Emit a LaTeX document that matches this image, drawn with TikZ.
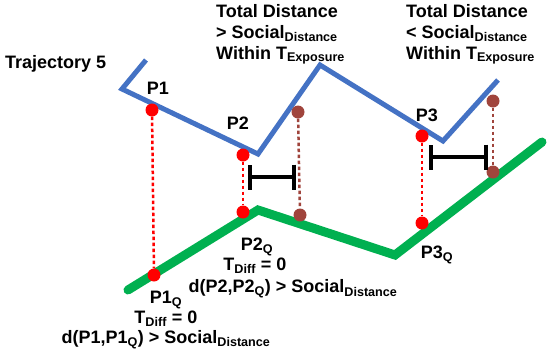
\documentclass[tikz,border=0pt]{standalone}
\usepackage{fontspec}
\setmainfont{Liberation Sans}
\usetikzlibrary{arrows.meta}
\definecolor{trajblue}{HTML}{4472C4}
\definecolor{trajgreen}{HTML}{00B050}
\definecolor{dotred}{HTML}{FF0000}
\definecolor{dotbrown}{HTML}{A0443C}
\tikzset{
  lbl/.style={font=\bfseries\fontsize{18}{21}\selectfont, inner sep=0pt},
  reddot/.style={circle, fill=dotred, inner sep=0pt, minimum size=13pt},
  browndot/.style={circle, fill=dotbrown, inner sep=0pt, minimum size=13pt},
  reddash/.style={dotred, line width=2.5pt, dash pattern=on 3.5pt off 2.5pt},
  browndash/.style={dotbrown, line width=2.5pt, dash pattern=on 3.5pt off 2.5pt},
  gapbar/.style={line width=4pt, {Bar[width=25pt]}-{Bar[width=25pt]}}
}
\begin{document}
\begin{tikzpicture}[x=1pt, y=-1pt]
  \useasboundingbox (0,0) rectangle (550,354);
  % trajectories
  \draw[trajblue, line width=5pt] (146,60) -- (122,89) -- (258,154) -- (320,65)
    -- (443,141) -- (498,80);
  \draw[trajgreen, line width=9pt, line cap=round] (128,290) -- (258,210)
    -- (395,255) -- (542,142);
  % points
  \node[reddot] (a1) at (152,110) {};
  \node[reddot] (b1) at (154,275) {};
  \node[reddot] (a2) at (243,155) {};
  \node[reddot] (b2) at (243,212) {};
  \node[reddot] (a3) at (422,136) {};
  \node[reddot] (b3) at (422,223) {};
  \node[browndot] (c2) at (298,112) {};
  \node[browndot] (e2) at (300,215) {};
  \node[browndot] (c3) at (493,101) {};
  \node[browndot] (e3) at (493,172) {};
  \draw[reddash] (a1) -- (b1);
  \draw[reddash] (a2) -- (b2);
  \draw[reddash] (a3) -- (b3);
  \draw[browndash] (c2) -- (e2);
  \draw[browndash] (c3) -- (e3);
  % gaps
  \coordinate (g2l) at (248,177);
  \coordinate (g2r) at (296,177);
  \coordinate (g3l) at (429,157);
  \coordinate (g3r) at (488,157);
  \draw[gapbar] (g2l) -- (g2r);
  \draw[gapbar] (g3l) -- (g3r);
  % labels
  \node[lbl, anchor=west] (traj) at (5,64) {Trajectory 5};
  \node[lbl] (p1) at (158,88) {P1};
  \node[lbl] (p2) at (238,123) {P2};
  \node[lbl] (p3) at (427,115) {P3};
  \node[lbl, anchor=north west, align=left] (cond1) at (216,4)
    {Total Distance\\> Social\textsubscript{Distance}\\Within T\textsubscript{Exposure}};
  \node[lbl, anchor=north west, align=left] (cond2) at (406,4)
    {Total Distance\\< Social\textsubscript{Distance}\\Within T\textsubscript{Exposure}};
  \node[lbl, align=center, font=\bfseries\fontsize{18}{20}\selectfont] (q1) at (166,320)
    {P1\textsubscript{Q}\\T\textsubscript{Diff} = 0\\d(P1,P1\textsubscript{Q}) > Social\textsubscript{Distance}};
  \node[lbl] (q2) at (257,247) {P2\textsubscript{Q}};
  \node[lbl] (q2t) at (255,266) {T\textsubscript{Diff} = 0};
  \node[lbl] (q2d) at (293,289) {d(P2,P2\textsubscript{Q}) > Social\textsubscript{Distance}};
  \node[lbl] (q3) at (437,255) {P3\textsubscript{Q}};
\end{tikzpicture}
\end{document}
